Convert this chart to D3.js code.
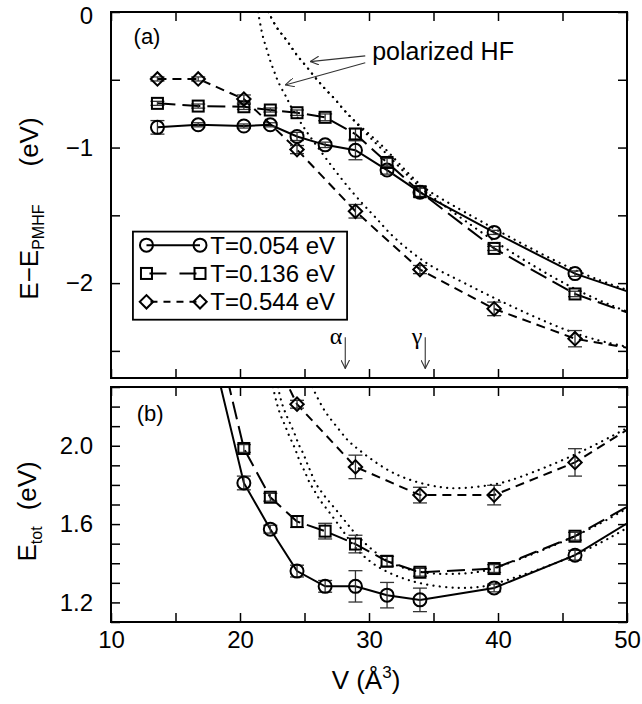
<!DOCTYPE html>
<html>
<head>
<meta charset="utf-8">
<script src="https://cdn.jsdelivr.net/npm/d3@7"></script>
<style>
  body { margin: 0; background: #fff; }
  text { font-family: "Liberation Sans", Arial, sans-serif; fill: #000; }
</style>
</head>
<body>
<div id="chart"></div>
<script>
// volumes (A^3) of the QMC points, panel (a)
const volA = [13.6, 16.76, 20.3, 22.35, 24.42, 26.6, 28.95, 31.4, 33.95, 39.7, 45.97, 52]
const eA054 = [-0.851, -0.832, -0.841, -0.832, -0.918, -0.98, -1.02, -1.166, -1.33, -1.626, -1.93, -2.125]
const errA054 = [0.05, 0.015, 0.015, 0.015, 0.03, 0.02, 0.07, 0.03, 0.03, 0.015, 0.02, 0]
const eA136 = [-0.674, -0.694, -0.699, -0.723, -0.743, -0.777, -0.9, -1.11, -1.326, -1.744, -2.08, -2.284]
const errA136 = [0.015, 0.015, 0.02, 0.015, 0.02, 0.025, 0.04, 0.03, 0.04, 0.015, 0.02, 0]
const volA544 = [13.6, 16.76, 20.3, 24.42, 28.95, 33.95, 39.7, 45.97, 52]
const eA544 = [-0.494, -0.494, -0.642, -1.015, -1.47, -1.9, -2.19, -2.41, -2.51]
const errA544 = [0.015, 0.015, 0.03, 0.03, 0.05, 0.03, 0.05, 0.06, 0]

// panel (b)
const volB = [16.76, 20.3, 22.35, 24.42, 26.6, 28.95, 31.4, 33.95, 39.7, 45.97, 52]
const eB054 = [2.78, 1.81, 1.574, 1.36, 1.282, 1.282, 1.237, 1.213, 1.274, 1.441, 1.684]
const errB054 = [0, 0.035, 0.02, 0.03, 0.03, 0.08, 0.065, 0.06, 0.02, 0.025, 0]
const eB136 = [2.97, 1.986, 1.737, 1.613, 1.564, 1.498, 1.41, 1.354, 1.373, 1.538, 1.763]
const errB136 = [0, 0.02, 0.02, 0.03, 0.04, 0.045, 0.025, 0.02, 0.02, 0.02, 0]
const volB544 = [20.3, 24.42, 28.95, 33.95, 39.7, 45.97, 52]
const eB544 = [2.77, 2.212, 1.892, 1.748, 1.748, 1.915, 2.163]
const errB544 = [0, 0.02, 0.06, 0.04, 0.05, 0.07, 0]

// polarized HF curves (dotted)
const hfA054V = [22.2, 22.8, 23.3, 23.8, 24.2, 24.7, 25.2, 25.7, 26.2, 26.7, 27.3, 27.8, 28.3, 28.8, 30.0, 31.1, 32.4, 33.9, 35.0, 39.7, 46.0, 50.0]
const hfA054E = [0, -0.114, -0.17, -0.231, -0.293, -0.353, -0.407, -0.47, -0.524, -0.58, -0.634, -0.695, -0.748, -0.797, -0.9, -0.99, -1.127, -1.273, -1.346, -1.6, -1.92, -2.05]
const hfA136V = [22.2, 22.8, 23.3, 23.8, 24.2, 24.7, 25.2, 25.7, 26.2, 26.7, 27.3, 27.8, 28.3, 28.8, 30.0, 31.1, 32.4, 33.9, 35.0, 39.7, 46.0, 50.0]
const hfA136E = [0, -0.114, -0.17, -0.231, -0.293, -0.353, -0.407, -0.47, -0.524, -0.58, -0.634, -0.695, -0.748, -0.797, -0.92, -1.02, -1.15, -1.29, -1.37, -1.7, -2.06, -2.21]
const hfA544V = [21.4, 21.7, 21.9, 22.14, 22.35, 22.66, 22.9, 23.26, 23.64, 23.9, 24.8, 25.2, 26.6, 28.0, 29.58, 30.74, 31.78, 34.5, 36.17, 38.24, 39.92, 46.0, 50.0]
const hfA544E = [0, -0.158, -0.224, -0.293, -0.366, -0.439, -0.505, -0.573, -0.634, -0.695, -0.83, -0.89, -1.072, -1.25, -1.426, -1.536, -1.658, -1.865, -1.94, -2.04, -2.121, -2.39, -2.47]

const hfB054V = [22.55, 22.75, 22.92, 23.18, 23.5, 23.77, 24.16, 24.42, 24.67, 25.06, 25.32, 25.76, 26.1, 26.6, 27.1, 27.57, 28.03, 29.0, 30.2, 31.4, 32.5, 33.72, 35.53, 37.2, 38.6, 39.7, 46.0, 50.0]
const hfB054E = [2.3, 2.245, 2.199, 2.148, 2.105, 2.054, 2.003, 1.96, 1.91, 1.867, 1.816, 1.773, 1.73, 1.688, 1.645, 1.603, 1.56, 1.47, 1.4, 1.355, 1.325, 1.3, 1.279, 1.271, 1.279, 1.29, 1.43, 1.58]
const hfB136V = [22.95, 23.12, 23.33, 23.64, 23.95, 24.29, 24.55, 24.93, 25.19, 25.5, 25.76, 26.22, 26.7, 27.26, 27.78, 28.3, 28.8, 30.0, 31.4, 32.8, 34.5, 36.05, 37.7, 38.6, 39.7, 46.0, 50.0]
const hfB136E = [2.3, 2.245, 2.199, 2.148, 2.105, 2.054, 2.003, 1.96, 1.91, 1.867, 1.816, 1.773, 1.73, 1.688, 1.645, 1.603, 1.56, 1.48, 1.41, 1.37, 1.348, 1.344, 1.348, 1.357, 1.37, 1.53, 1.68]
const hfB544V = [25.6, 25.97, 26.36, 26.74, 27.26, 27.78, 28.3, 28.8, 31.26, 33.46, 35.8, 37.3, 39.66, 41.2, 46.0, 50.0]
const hfB544E = [2.3, 2.25, 2.2, 2.16, 2.117, 2.074, 2.03, 2.0, 1.875, 1.815, 1.782, 1.782, 1.8, 1.824, 1.95, 2.09]

const legendLabels = ['T=0.054 eV', 'T=0.136 eV', 'T=0.544 eV']
const xTicks = [10, 15, 20, 25, 30, 35, 40, 45, 50]
const xLabels = [10, 20, 30, 40, 50]
const yTicksA = [0, -0.5, -1, -1.5, -2, -2.5]
const yLabelsA = [0, -1, -2]
const yTicksB = d3.range(11, 24).map(d => d / 10)
const yLabelsB = [1.2, 1.6, 2.0]

let width = 642
let height = 704
let margin = { left: 111, right: 15 }

let svg = d3
  .select('#chart')
  .append('svg')
  .attr('width', width)
  .attr('height', height)

let x = d3.scaleLinear().domain([10, 50]).range([margin.left, width - margin.right])
let yA = d3.scaleLinear().domain([-2.7, 0]).range([378, 12])
let yB = d3.scaleLinear().domain([1.1, 2.3]).range([622, 387])

let styles = [
  { sym: 'circle', dash: null },
  { sym: 'square', dash: '18,7' },
  { sym: 'diamond', dash: '9,6' }
]

function marker(g, sym, cx, cy) {
  if (sym === 'circle') {
    g.append('circle').attr('cx', cx).attr('cy', cy).attr('r', 6.5)
  } else if (sym === 'square') {
    g.append('rect').attr('x', cx - 5.5).attr('y', cy - 5.5).attr('width', 11).attr('height', 11)
  } else {
    g.append('path')
      .attr('d', d3.symbol(d3.symbolSquare, 90)())
      .attr('transform', `translate(${cx},${cy}) rotate(45)`)
  }
}

function drawPanel(id, y, yTicks, yLabels, fmt, series, hf) {
  let y0 = y.range()[1]
  let y1 = y.range()[0]

  svg.append('clipPath').attr('id', id)
    .append('rect')
    .attr('x', x(10)).attr('y', y0)
    .attr('width', x(50) - x(10)).attr('height', y1 - y0)

  let plot = svg.append('g').attr('clip-path', `url(#${id})`)

  // dotted HF curves
  let hfLine = d3.line()
    .x(d => x(d[0]))
    .y(d => y(d[1]))
    .curve(d3.curveBasis)
  hf.forEach(([vs, es]) => {
    plot.append('path')
      .datum(vs.map((v, i) => [v, es[i]]))
      .attr('d', hfLine)
      .attr('fill', 'none')
      .attr('stroke', '#000')
      .attr('stroke-width', 2.2)
      .attr('stroke-linecap', 'round')
      .attr('stroke-dasharray', '0.1,6.2')
  })

  let line = d3.line().x(d => x(d.v)).y(d => y(d.e))

  series.forEach((s, k) => {
    let pts = s.v.map((v, i) => ({ v: v, e: s.e[i], err: s.err[i] }))
    plot.append('path')
      .datum(pts)
      .attr('d', line)
      .attr('fill', 'none')
      .attr('stroke', '#000')
      .attr('stroke-width', 2)
      .attr('stroke-dasharray', styles[k].dash)

    let eb = plot.append('g').attr('stroke', '#333').attr('stroke-width', 1.3)
    pts.filter(d => d.err > 0).forEach(d => {
      let cx = x(d.v)
      eb.append('line').attr('x1', cx).attr('x2', cx).attr('y1', y(d.e - d.err)).attr('y2', y(d.e + d.err))
      eb.append('line').attr('x1', cx - 7).attr('x2', cx + 7).attr('y1', y(d.e - d.err)).attr('y2', y(d.e - d.err))
      eb.append('line').attr('x1', cx - 7).attr('x2', cx + 7).attr('y1', y(d.e + d.err)).attr('y2', y(d.e + d.err))
    })

    let mk = plot.append('g').attr('fill', 'none').attr('stroke', '#000').attr('stroke-width', 2)
    pts.forEach(d => marker(mk, styles[k].sym, x(d.v), y(d.e)))
  })

  // frame and inward ticks on all sides
  let axes = svg.append('g').attr('class', 'axes')
  axes.append('g')
    .attr('transform', `translate(0,${y1})`)
    .call(d3.axisBottom(x).tickValues(xTicks).tickSize(-9).tickFormat(''))
  axes.append('g')
    .attr('transform', `translate(0,${y0})`)
    .call(d3.axisTop(x).tickValues(xTicks).tickSize(-9).tickFormat(''))
  axes.append('g')
    .attr('transform', `translate(${x(10)},0)`)
    .call(d3.axisLeft(y).tickValues(yTicks).tickSize(-9).tickPadding(18)
      .tickFormat(d => yLabels.some(l => Math.abs(l - d) < 1e-6) ? fmt(d) : ''))
  axes.append('g')
    .attr('transform', `translate(${x(50)},0)`)
    .call(d3.axisRight(y).tickValues(yTicks).tickSize(-9).tickFormat(''))
  axes.selectAll('.domain').remove()
  axes.selectAll('.tick line').attr('stroke', '#000').attr('stroke-width', 1.5)
  axes.selectAll('.tick text').attr('font-size', 24).attr('font-family', '"Liberation Sans", Arial, sans-serif')

  svg.append('rect')
    .attr('x', x(10)).attr('y', y0)
    .attr('width', x(50) - x(10)).attr('height', y1 - y0)
    .attr('fill', 'none').attr('stroke', '#000').attr('stroke-width', 2)
  return axes
}

let axesA = drawPanel('clipA', yA, yTicksA, yLabelsA, d3.format('d'),
  [
    { v: volA, e: eA054, err: errA054 },
    { v: volA, e: eA136, err: errA136 },
    { v: volA544, e: eA544, err: errA544 }
  ],
  [[hfA054V, hfA054E], [hfA136V, hfA136E], [hfA544V, hfA544E]])

// the "0" label sits at the very top edge; nudge it down so it stays inside
axesA.selectAll('.tick text').filter(d => d === 0).attr('dy', '0.46em')

drawPanel('clipB', yB, yTicksB, yLabelsB, d3.format('.1f'),
  [
    { v: volB, e: eB054, err: errB054 },
    { v: volB, e: eB136, err: errB136 },
    { v: volB544, e: eB544, err: errB544 }
  ],
  [[hfB054V, hfB054E], [hfB136V, hfB136E], [hfB544V, hfB544E]])

// x tick labels under panel (b)
svg.append('g')
  .attr('transform', `translate(0,${yB.range()[0]})`)
  .call(d3.axisBottom(x).tickValues(xLabels).tickSize(0).tickPadding(9))
  .call(g => g.select('.domain').remove())
  .selectAll('text').attr('font-size', 24).attr('font-family', '"Liberation Sans", Arial, sans-serif')

// axis titles
svg.append('text')
  .attr('x', 366)
  .attr('y', 689)
  .attr('text-anchor', 'middle')
  .attr('font-size', 26)
  .call(t => {
    t.append('tspan').text('V (Å')
    t.append('tspan').attr('font-size', 17).attr('dy', -11).text('3')
    t.append('tspan').attr('dy', 11).text(')')
  })

svg.append('text')
  .attr('transform', `translate(38,${yA(-1.45)}) rotate(-90)`)
  .attr('text-anchor', 'middle')
  .attr('font-size', 26)
  .call(t => {
    t.append('tspan').text('E−E')
    t.append('tspan').attr('font-size', 16).attr('dy', 6).text('PMHF')
    t.append('tspan').attr('dy', -6).attr('dx', 38).text('(eV)')
  })

svg.append('text')
  .attr('transform', `translate(36,${yB(1.665)}) rotate(-90)`)
  .attr('text-anchor', 'middle')
  .attr('font-size', 26)
  .call(t => {
    t.append('tspan').text('E')
    t.append('tspan').attr('font-size', 16).attr('dy', 6).text('tot')
    t.append('tspan').attr('dy', -6).attr('dx', 16).text('(eV)')
  })

// panel letters
svg.append('text').attr('x', x(11.75)).attr('y', yA(-0.236)).attr('font-size', 22).text('(a)')
svg.append('text').attr('x', x(12.0)).attr('y', yB(2.125)).attr('font-size', 22).text('(b)')

// annotation arrows
let arrowHead = svg.append('defs').append('marker')
  .attr('id', 'head')
  .attr('viewBox', '0 0 10 10')
  .attr('refX', 10).attr('refY', 5)
  .attr('markerWidth', 9).attr('markerHeight', 9)
  .attr('markerUnits', 'userSpaceOnUse')
  .attr('orient', 'auto')
arrowHead.append('path').attr('d', 'M0,0L10,5L0,10').attr('fill', 'none').attr('stroke', '#333').attr('stroke-width', 1.2)

let hfArrows = [
  { from: [29.71, -0.324], to: [25.44, -0.366] },
  { from: [29.71, -0.374], to: [23.51, -0.538] }
]
hfArrows.forEach(a => {
  svg.append('line')
    .attr('x1', x(a.from[0])).attr('y1', yA(a.from[1]))
    .attr('x2', x(a.to[0])).attr('y2', yA(a.to[1]))
    .attr('stroke', '#333').attr('stroke-width', 1.1)
    .attr('marker-end', 'url(#head)')
})
svg.append('text')
  .attr('x', x(30.25)).attr('y', yA(-0.355))
  .attr('font-size', 25)
  .text('polarized HF')

let phases = [
  { label: 'α', v: 28.16 },
  { label: 'γ', v: 34.36 }
]
phases.forEach(p => {
  svg.append('line')
    .attr('x1', x(p.v)).attr('y1', yA(-2.4))
    .attr('x2', x(p.v)).attr('y2', yA(-2.63))
    .attr('stroke', '#333').attr('stroke-width', 1.1)
    .attr('marker-end', 'url(#head)')
  svg.append('text')
    .attr('x', x(p.v) - 3).attr('y', yA(-2.45))
    .attr('text-anchor', 'end')
    .attr('font-size', 24)
    .style('font-family', '"Liberation Serif", "DejaVu Serif", serif')
    .text(p.label)
})

// legend
let legend = svg.append('g')
legend.append('rect')
  .attr('x', x(11.7)).attr('y', yA(-1.62))
  .attr('width', x(28.3) - x(11.7)).attr('height', yA(-2.27) - yA(-1.62))
  .attr('fill', '#fff').attr('stroke', '#000').attr('stroke-width', 1.8)
legendLabels.forEach((label, k) => {
  let ly = yA(-1.72) + k * 28.3
  let lx0 = x(12.75)
  let lx1 = x(16.9)
  legend.append('line')
    .attr('x1', lx0).attr('x2', lx1).attr('y1', ly).attr('y2', ly)
    .attr('stroke', '#000').attr('stroke-width', 2)
    .attr('stroke-dasharray', k === 1 ? '17,13' : k === 2 ? '7,6' : null)
    .attr('stroke-dashoffset', k === 1 ? -3 : k === 2 ? -4 : 0)
  let mk = legend.append('g').attr('fill', 'none').attr('stroke', '#000').attr('stroke-width', 2)
  marker(mk, styles[k].sym, lx0, ly)
  marker(mk, styles[k].sym, lx1, ly)
  legend.append('text')
    .attr('x', x(17.7)).attr('y', ly)
    .attr('dy', '0.36em')
    .attr('font-size', 24)
    .text(label)
})
</script>
</body>
</html>
